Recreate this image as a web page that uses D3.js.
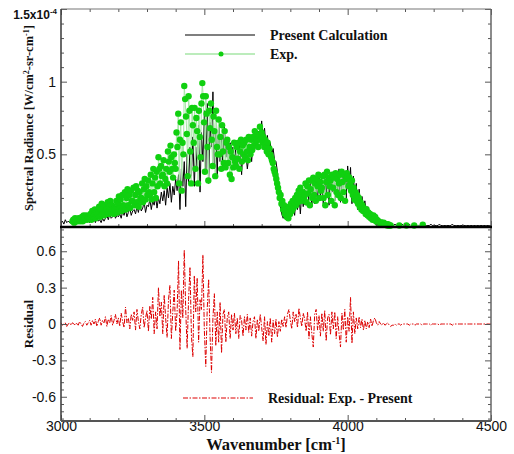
<!DOCTYPE html>
<html>
<head>
<meta charset="utf-8">
<script src="https://cdn.jsdelivr.net/npm/d3@7"></script>
<style>
  body { margin: 0; background: #fff; }
  svg { display: block; }
</style>
</head>
<body>
<svg id="chart" width="514" height="454"></svg>
<script>
// Spectral radiance, units of 1e-6 W/cm^2-sr-cm^-1.
// Calculated spectrum: 3000–4500 cm^-1, every 5 cm^-1.
const calcStart = 3000, calcStep = 5;
const calcRadiance = [
  3,4,2,5,3,4,3,5,2,4,3,
  4,3,5,3,4,6,3,5,4,3,
  5,4,6,3,7,4,5,3,6,4,
  6,8,5,9,6,7,10,6,8,7,
  9,6,11,8,12,7,10,13,8,11,
  12,9,14,10,16,11,13,17,10,15,
  14,19,12,18,15,21,13,20,16,24,
  18,25,15,27,20,30,17,28,22,33,
  25,36,12,40,28,45,14,50,30,55,
  35,62,28,55,40,70,24,65,45,80,
  38,85,30,72,55,93,40,66,35,75,
  45,62,40,70,48,60,42,58,46,55,
  44,55,40,52,58,36,54,45,50,40,
  48,55,45,58,52,62,55,66,60,73,
  60,68,55,63,52,58,50,54,46,45,
  38,25,14,9,6,10,5,12,8,14,
  10,18,8,20,12,22,9,24,14,26,
  15,28,18,30,14,32,16,29,18,34,
  20,33,16,36,22,37,15,34,24,38,
  18,36,24,40,17,39,26,37,20,42,
  28,41,16,35,20,30,12,26,15,21,
  12,18,10,14,8,11,6,9,5,7,
  4,6,3,5,3,4,2,3,2,3,
  2,1,2,1,2,1,1,2,1,1,
  1,1,2,1,1,1,2,1,1,1,
  1,2,1,1,1,1,1,2,1,1,
  1,1,1,2,1,1,1,1,1,1,
  1,1,2,1,1,1,1,1,1,1,
  1,1,1,1,1,1,1,1,1,1,
  1,1,1,1,1,1,1,1,1,1
];

// Measured spectrum: 3040–4150 cm^-1, every 3 cm^-1, plus a few sparse points beyond.
const expStart = 3040, expStep = 3;
const expRadiance = [
  4,5,3,6,4,5,4,6,5,4,
  5,7,4,8,5,6,8,5,7,6,
  6,9,5,11,7,8,12,6,10,8,
  9,14,7,12,16,9,13,8,15,11,
  12,17,9,14,18,10,15,12,9,13,
  12,18,10,16,21,13,19,11,22,15,
  14,24,12,20,26,15,22,13,25,18,
  18,27,15,22,28,17,25,14,24,20,
  20,30,17,26,33,19,28,22,32,24,
  22,36,19,30,40,24,34,20,38,28,
  48,40,30,42,35,36,46,28,33,40,
  30,52,45,38,56,48,40,34,50,44,
  40,65,55,78,30,60,72,25,58,50,
  97,88,76,64,35,90,80,52,30,82,
  70,58,82,40,75,66,30,80,62,48,
  85,99,90,72,38,90,78,55,32,80,
  68,85,60,42,76,66,35,80,55,50,
  74,50,62,40,70,52,44,66,41,58,
  60,44,55,36,52,33,48,41,58,45,
  42,55,47,58,40,52,60,45,56,50,
  58,48,60,52,46,62,55,50,60,53,
  62,56,66,58,64,60,55,63,69,60,
  65,58,62,55,60,57,52,58,50,54,
  50,48,46,44,40,38,36,33,30,27,
  24,20,22,16,18,12,15,9,12,7,
  12,6,14,9,16,11,18,13,17,20,
  15,22,17,25,19,27,21,18,24,20,
  22,30,17,28,23,32,15,26,32,20,
  34,22,30,18,33,28,36,20,31,25,
  27,35,20,36,15,31,38,22,34,28,
  32,18,36,27,34,15,37,24,33,22,
  30,36,20,38,31,24,36,18,33,37,
  35,28,34,30,25,32,22,27,19,24,
  18,22,16,20,14,17,12,15,11,13,
  11,9,12,8,10,7,9,6,8,5,
  8,6,7,4,5,3,4,3,3,2,
  3,2,3,2,2,2,1,2,1,1,
  1
];
const expTailWavenumber = [4180, 4205, 4232, 4262];
const expTailRadiance = [1, 1, 1, 1.5];

// Residual (Exp. - Present): 3000–4500 cm^-1, every 5 cm^-1.
const resStart = 3000, resStep = 5;
const residual = [
  0.01,-0.01,0.00,0.01,-0.02,0.00,0.01,-0.01,0.01,0.00,-0.01,
  0.01,-0.01,0.02,0.00,-0.02,0.01,0.02,-0.01,0.01,0.03,
  -0.01,0.03,0.00,0.04,-0.02,0.02,0.05,-0.01,0.03,0.01,
  0.06,-0.02,0.04,0.01,0.07,-0.01,0.03,0.08,0.00,0.05,
  -0.02,0.09,0.02,-0.03,0.14,0.01,0.05,-0.04,0.08,0.03,
  0.10,-0.05,0.12,0.02,-0.04,0.08,0.14,-0.03,0.05,0.11,
  -0.06,0.15,0.04,0.22,-0.08,0.10,-0.04,0.30,0.06,0.18,
  -0.08,0.24,0.05,-0.11,0.20,0.32,-0.12,0.10,0.28,-0.06,
  0.10,0.52,-0.21,0.28,0.05,0.61,0.12,-0.20,0.20,0.47,
  -0.10,-0.27,0.40,0.10,0.38,-0.15,0.20,0.12,0.57,-0.05,
  -0.35,0.12,0.37,-0.10,-0.40,0.05,0.25,-0.18,0.10,-0.15,
  0.18,-0.24,0.08,0.12,-0.15,0.05,0.10,-0.12,0.08,-0.05,
  0.09,-0.08,0.05,-0.12,0.07,0.03,-0.10,0.06,-0.05,0.08,
  -0.07,0.05,-0.10,0.02,0.06,-0.12,0.04,-0.06,0.08,-0.03,
  -0.14,0.06,-0.17,0.02,-0.10,0.05,-0.15,0.03,-0.08,0.04,
  -0.11,0.02,-0.06,0.04,-0.02,0.06,-0.03,0.08,0.12,0.03,
  -0.04,0.10,0.02,0.08,-0.03,0.13,0.05,-0.02,0.09,0.04,
  -0.06,0.10,-0.12,0.06,-0.08,-0.19,0.08,0.12,-0.05,0.07,
  -0.10,0.09,-0.06,0.11,-0.14,0.05,0.08,-0.09,0.10,-0.04,
  0.10,-0.12,0.06,-0.08,-0.19,0.09,-0.05,0.12,-0.15,0.06,
  -0.06,0.22,-0.16,0.10,-0.08,0.05,-0.04,0.06,-0.03,0.04,
  -0.05,0.03,-0.04,0.02,-0.03,0.04,-0.02,0.03,0.05,0.01,
  -0.01,0.02,0.00,-0.01,0.01,-0.01,0.00,0.01,-0.01,-0.02,
  -0.01,-0.01,0.00,-0.01,0.00,0.00,-0.01,0.00,0.00,0.00,
  0.00,0.00,-0.01,0.00,0.00,0.00,-0.01,0.00,0.00,0.00,
  0.00,-0.01,0.00,0.00,0.00,0.00,0.00,-0.01,0.00,0.00,
  0.00,0.00,0.00,-0.01,0.00,0.00,0.00,0.00,0.00,0.00,
  0.00,0.00,-0.01,0.00,0.00,0.00,0.00,0.00,0.00,0.00,
  0.00,0.00,0.00,0.00,0.00,0.00,0.00,0.00,0.00,0.00,
  0.00,0.00,0.00,0.00,0.00,0.00,0.00,0.00,0.00,0.00
];

// Axis ticks
const xMajorTicks = [3000, 3500, 4000, 4500];
const xMinorTicks = d3.range(3100, 4500, 100).filter(v => v % 500 !== 0);
const radMajorTicks = [50, 100, 150];
const radTickLabels = ["0.5", "1", ""];
const radMinorTicks = [10,20,30,40,60,70,80,90,110,120,130,140];
const resMajorTicks = [-0.6, -0.3, 0, 0.3, 0.6];
const resTickLabels = ["-0.6", "-0.3", "0", "0.3", "0.6"];
const resMinorTicks = [-0.78,-0.72,-0.66,-0.54,-0.48,-0.42,-0.36,-0.24,-0.18,-0.12,-0.06,
                       0.06,0.12,0.18,0.24,0.36,0.42,0.48,0.54,0.66,0.72,0.78];

// ---- layout ----
const L = 61, R = 491, T = 9, MID = 227, B = 421;
const svg = d3.select("#chart");
const x = d3.scaleLinear().domain([3000, 4500]).range([L, R]);
const yTop = d3.scaleLinear().domain([0, 150]).range([MID, T]);
const yRes = d3.scaleLinear().domain([-0.8, 0.8]).range([B, MID]);

const calcData = calcRadiance.map((v, i) => [calcStart + calcStep * i, v]);
const expData = expRadiance.map((v, i) => [expStart + expStep * i, v])
  .concat(expTailWavenumber.map((w, i) => [w, expTailRadiance[i]]));
const resData = residual.map((v, i) => [resStart + resStep * i, v]);

const tickColor = "#555";
const sansFont = "'Liberation Sans', Arial, sans-serif";
const serifFont = "'Liberation Serif', 'Times New Roman', serif";

function styleAxis(g) {
  g.select(".domain").remove();
  g.selectAll(".tick line").attr("stroke", tickColor).attr("stroke-width", 1);
  g.selectAll(".tick text").attr("font-family", sansFont).attr("font-size", 14).attr("fill", "#111");
}

// ---- top panel: spectra ----
const lineTop = d3.line().x(d => x(d[0])).y(d => yTop(d[1]));
svg.append("path").datum(calcData).attr("d", lineTop)
  .attr("fill", "none").attr("stroke", "#000").attr("stroke-width", 1);
svg.append("path").datum(expData).attr("d", lineTop)
  .attr("fill", "none").attr("stroke", "#a6e6a6").attr("stroke-width", 1);
svg.append("g").selectAll("circle").data(expData).join("circle")
  .attr("cx", d => x(d[0])).attr("cy", d => yTop(d[1])).attr("r", 3.2)
  .attr("fill", "#10d010");

// ---- bottom panel: residual ----
const lineRes = d3.line().x(d => x(d[0])).y(d => yRes(d[1]));
svg.append("path").datum(resData).attr("d", lineRes)
  .attr("fill", "none").attr("stroke", "#dd0000").attr("stroke-width", 1)
  .attr("stroke-dasharray", "5,1.5,1.5,1.5");

// ---- axes ----
// top panel left
svg.append("g").attr("transform", `translate(${L},0)`)
  .call(d3.axisLeft(yTop).tickValues(radMajorTicks).tickSizeInner(-6).tickSizeOuter(0).tickPadding(5)
    .tickFormat((d, i) => radTickLabels[i])).call(styleAxis);
svg.append("g").attr("transform", `translate(${L},0)`)
  .call(d3.axisLeft(yTop).tickValues(radMinorTicks).tickSizeInner(-3).tickSizeOuter(0).tickFormat(""))
  .call(styleAxis);
// top panel right
svg.append("g").attr("transform", `translate(${R},0)`)
  .call(d3.axisRight(yTop).tickValues(radMajorTicks).tickSizeInner(-6).tickSizeOuter(0).tickFormat(""))
  .call(styleAxis);
svg.append("g").attr("transform", `translate(${R},0)`)
  .call(d3.axisRight(yTop).tickValues(radMinorTicks).tickSizeInner(-3).tickSizeOuter(0).tickFormat(""))
  .call(styleAxis);
// top panel x ticks (bottom edge, pointing up; top edge, pointing down)
[[MID, d3.axisBottom], [T, d3.axisTop]].forEach(([yy, ax]) => {
  svg.append("g").attr("transform", `translate(0,${yy})`)
    .call(ax(x).tickValues(xMajorTicks).tickSizeInner(-6).tickSizeOuter(0).tickFormat(""))
    .call(styleAxis);
  svg.append("g").attr("transform", `translate(0,${yy})`)
    .call(ax(x).tickValues(xMinorTicks).tickSizeInner(-3).tickSizeOuter(0).tickFormat(""))
    .call(styleAxis);
});

// bottom panel left
svg.append("g").attr("transform", `translate(${L},0)`)
  .call(d3.axisLeft(yRes).tickValues(resMajorTicks).tickSizeInner(-6).tickSizeOuter(0).tickPadding(5)
    .tickFormat((d, i) => resTickLabels[i])).call(styleAxis);
svg.append("g").attr("transform", `translate(${L},0)`)
  .call(d3.axisLeft(yRes).tickValues(resMinorTicks).tickSizeInner(-3).tickSizeOuter(0).tickFormat(""))
  .call(styleAxis);
// bottom panel right
svg.append("g").attr("transform", `translate(${R},0)`)
  .call(d3.axisRight(yRes).tickValues(resMajorTicks).tickSizeInner(-6).tickSizeOuter(0).tickFormat(""))
  .call(styleAxis);
svg.append("g").attr("transform", `translate(${R},0)`)
  .call(d3.axisRight(yRes).tickValues(resMinorTicks).tickSizeInner(-3).tickSizeOuter(0).tickFormat(""))
  .call(styleAxis);
// bottom x axis
svg.append("g").attr("transform", `translate(0,${B})`)
  .call(d3.axisBottom(x).tickValues(xMajorTicks).tickSizeInner(-6).tickSizeOuter(0).tickPadding(0)
    .tickFormat(d3.format("d"))).call(styleAxis);
svg.append("g").attr("transform", `translate(0,${B})`)
  .call(d3.axisBottom(x).tickValues(xMinorTicks).tickSizeInner(-3).tickSizeOuter(0).tickFormat(""))
  .call(styleAxis);

// ---- frame ----
const frame = svg.append("g").attr("fill", "none");
frame.append("line").attr("x1", L).attr("x2", R).attr("y1", T).attr("y2", T)
  .attr("stroke", "#777").attr("stroke-width", 1.2);
frame.append("line").attr("x1", R).attr("x2", R).attr("y1", T).attr("y2", B)
  .attr("stroke", "#666").attr("stroke-width", 1.5);
frame.append("line").attr("x1", L).attr("x2", L).attr("y1", T).attr("y2", B)
  .attr("stroke", "#444").attr("stroke-width", 1.6);
frame.append("line").attr("x1", L).attr("x2", R).attr("y1", B).attr("y2", B)
  .attr("stroke", "#555").attr("stroke-width", 1.8);
frame.append("line").attr("x1", L - 1).attr("x2", R + 1).attr("y1", MID).attr("y2", MID)
  .attr("stroke", "#000").attr("stroke-width", 2.6);

// ---- axis titles ----
const topLabel = svg.append("text").attr("x", 57).attr("y", 19)
  .attr("text-anchor", "end").attr("font-family", sansFont).attr("font-weight", "bold")
  .attr("font-size", 12).attr("fill", "#111");
topLabel.append("tspan").text("1.5x10");
topLabel.append("tspan").attr("dy", -5).attr("font-size", 8).text("-4");

const yTitle = svg.append("text").attr("transform", "translate(33,118) rotate(-90)")
  .attr("text-anchor", "middle").attr("font-family", serifFont).attr("font-weight", "bold")
  .attr("font-size", 12.5).attr("fill", "#111");
yTitle.append("tspan").text("Spectral Radiance [W/cm");
yTitle.append("tspan").attr("dy", -4).attr("font-size", 8).text("2");
yTitle.append("tspan").attr("dy", 4).text("-sr-cm");
yTitle.append("tspan").attr("dy", -4).attr("font-size", 8).text("-1");
yTitle.append("tspan").attr("dy", 4).text("]");

svg.append("text").attr("transform", "translate(33,324) rotate(-90)")
  .attr("text-anchor", "middle").attr("font-family", serifFont).attr("font-weight", "bold")
  .attr("font-size", 13).attr("fill", "#111").text("Residual");

const xTitle = svg.append("text").attr("x", (L + R) / 2).attr("y", 450)
  .attr("text-anchor", "middle").attr("font-family", serifFont).attr("font-weight", "bold")
  .attr("font-size", 16.5).attr("fill", "#111");
xTitle.append("tspan").text("Wavenumber [cm");
xTitle.append("tspan").attr("dy", -6).attr("font-size", 10).text("-1");
xTitle.append("tspan").attr("dy", 6).text("]");

// ---- legends ----
const legendFont = { "font-family": serifFont, "font-weight": "bold", "font-size": 14, "fill": "#111" };
function legendText(xx, yy, txt) {
  const t = svg.append("text").attr("x", xx).attr("y", yy).text(txt);
  Object.entries(legendFont).forEach(([k, v]) => t.attr(k, v));
}
svg.append("line").attr("x1", 185).attr("x2", 255).attr("y1", 35).attr("y2", 35)
  .attr("stroke", "#000").attr("stroke-width", 1.1);
legendText(270, 40, "Present Calculation");
svg.append("line").attr("x1", 185).attr("x2", 255).attr("y1", 54).attr("y2", 54)
  .attr("stroke", "#a6e6a6").attr("stroke-width", 1.5);
svg.append("circle").attr("cx", 221).attr("cy", 54).attr("r", 2.5).attr("fill", "#10d010");
legendText(270, 59, "Exp.");
svg.append("line").attr("x1", 183).attr("x2", 253).attr("y1", 398).attr("y2", 398)
  .attr("stroke", "#dd0000").attr("stroke-width", 1).attr("stroke-dasharray", "5,1.5,1.5,1.5");
legendText(268, 403, "Residual: Exp. - Present");
</script>
</body>
</html>
